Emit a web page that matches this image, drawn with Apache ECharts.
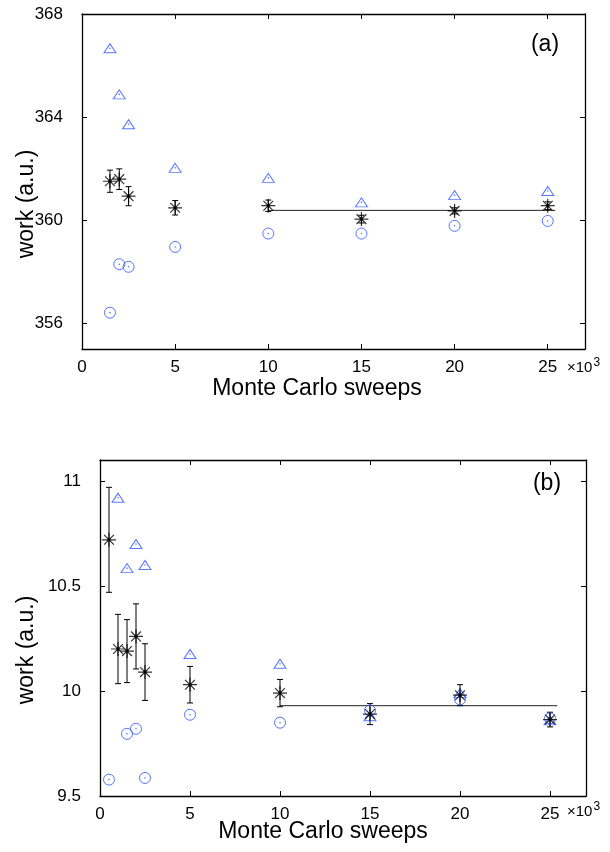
<!DOCTYPE html>
<html>
<head>
<meta charset="utf-8">
<script src="https://cdn.jsdelivr.net/npm/echarts@6/dist/echarts.min.js"></script>
<style>
  html, body { margin: 0; padding: 0; background: #fff; }
  #chart { width: 610px; height: 852px; }
</style>
</head>
<body>
<div id="chart"></div>
<script>
// sweeps in units of 10^3
const xTicks = [0, 5, 10, 15, 20, 25];

// panel (a)
const sweepsA = [1.5, 2, 2.5, 5, 10, 15, 20, 25];
const triA = [366.67, 364.88, 363.72, 362.03, 361.64, 360.69, 360.97, 361.13];
const circA = [356.41, 358.29, 358.19, 358.96, 359.48, 359.48, 359.78, 359.97];
const starA = [361.51, 361.59, 360.93, 360.48, 360.56, 360.04, 360.36, 360.56];
const errA = [0.43, 0.40, 0.37, 0.28, 0.22, 0.15, 0.12, 0.15];
const fitA = 360.38;
const yTicksA = [356, 360, 364, 368];

// panel (b)
const sweepsB = [0.5, 1, 1.5, 2, 2.5, 5, 10, 15, 20, 25];
const triB = [null, 10.92, 10.585, 10.70, 10.60, 10.176, 10.13, 9.88, 9.99, 9.86];
const circB = [9.578, null, 9.796, 9.82, 9.586, 9.887, 9.849, 9.907, 9.96, 9.87];
const starB = [10.72, 10.20, 10.19, 10.26, 10.09, 10.03, 9.99, 9.89, 9.98, 9.864];
const errB = [0.25, 0.165, 0.15, 0.155, 0.135, 0.087, 0.065, 0.05, 0.05, 0.035];
const fitB = 9.93;
const yTicksB = [9.5, 10, 10.5, 11];

const fitRange = [10, 25.4];

const FONT = 'Liberation Sans, Arial, sans-serif';
const BLUE = '#2f55ff';
const STAR = 'path://M0,-10L0,10M-10,0L10,0M-7,-7L7,7M-7,7L7,-7';

const pairs = (xs, ys) => xs.map((x, i) => [x, ys[i]]).filter(p => p[1] != null);

function axesFor(g, yMin, yMax, yTicks) {
  const line = { show: true, onZero: false, lineStyle: { color: '#000', width: 1.3 } };
  const tick = { show: true, inside: true, length: 5, lineStyle: { color: '#000', width: 1 } };
  const x = [
    { gridIndex: g, type: 'value', min: 0, max: 27, position: 'bottom',
      axisLine: line, splitLine: { show: false },
      axisTick: Object.assign({ customValues: xTicks }, tick),
      axisLabel: { customValues: xTicks, margin: 10, fontSize: 17, color: '#000', fontFamily: FONT } },
    { gridIndex: g, type: 'value', min: 0, max: 27, position: 'top',
      axisLine: line, splitLine: { show: false },
      axisTick: Object.assign({ customValues: xTicks }, tick),
      axisLabel: { show: false } }
  ];
  const y = [
    { gridIndex: g, type: 'value', min: yMin, max: yMax, position: 'left',
      axisLine: line, splitLine: { show: false },
      axisTick: Object.assign({ customValues: yTicks }, tick),
      axisLabel: { customValues: yTicks, margin: 19, fontSize: 17, color: '#000', fontFamily: FONT } },
    { gridIndex: g, type: 'value', min: yMin, max: yMax, position: 'right',
      axisLine: line, splitLine: { show: false },
      axisTick: Object.assign({ customValues: yTicks }, tick),
      axisLabel: { show: false } }
  ];
  return { x, y };
}

function seriesFor(g, sweeps, tri, circ, star, err, fit) {
  const xi = g * 2, yi = g * 2;
  const errData = sweeps.map((x, i) => [x, star[i] - err[i], star[i] + err[i]]);
  return [
    { type: 'custom', xAxisIndex: xi, yAxisIndex: yi, data: errData, z: 3,
      renderItem: (params, api) => {
        const lo = api.coord([api.value(0), api.value(1)]);
        const hi = api.coord([api.value(0), api.value(2)]);
        const st = { stroke: '#000', lineWidth: 1 };
        return { type: 'group', children: [
          { type: 'line', shape: { x1: lo[0], y1: lo[1], x2: hi[0], y2: hi[1] }, style: st },
          { type: 'line', shape: { x1: lo[0] - 3, y1: lo[1], x2: lo[0] + 3, y2: lo[1] }, style: st },
          { type: 'line', shape: { x1: hi[0] - 3, y1: hi[1], x2: hi[0] + 3, y2: hi[1] }, style: st }
        ] };
      } },
    { type: 'line', xAxisIndex: xi, yAxisIndex: yi, data: [[fitRange[0], fit], [fitRange[1], fit]],
      symbol: 'none', lineStyle: { color: '#222', width: 1 }, z: 2 },
    { type: 'scatter', xAxisIndex: xi, yAxisIndex: yi, data: pairs(sweeps, tri),
      symbol: 'triangle', symbolSize: [12, 9],
      itemStyle: { color: 'rgba(0,0,0,0)', borderColor: BLUE, borderWidth: 1 }, z: 4 },
    { type: 'scatter', xAxisIndex: xi, yAxisIndex: yi, data: pairs(sweeps, circ),
      symbol: 'circle', symbolSize: 11,
      itemStyle: { color: 'rgba(0,0,0,0)', borderColor: BLUE, borderWidth: 1 }, z: 4 },
    { type: 'scatter', xAxisIndex: xi, yAxisIndex: yi,
      data: pairs(sweeps, tri).concat(pairs(sweeps, circ)),
      symbol: 'circle', symbolSize: 1.6, itemStyle: { color: BLUE }, z: 4 },
    { type: 'scatter', xAxisIndex: xi, yAxisIndex: yi, data: pairs(sweeps, star),
      symbol: STAR, symbolSize: 14, symbolKeepAspect: true,
      itemStyle: { color: 'rgba(0,0,0,0)', borderColor: '#000', borderWidth: 1.2 }, z: 5 },
    { type: 'scatter', xAxisIndex: xi, yAxisIndex: yi, data: pairs(sweeps, star),
      symbol: 'circle', symbolSize: 3.5, itemStyle: { color: '#000' }, z: 6 }
  ];
}

const a = axesFor(0, 355, 368, yTicksA);
const b = axesFor(1, 9.5, 11.1, yTicksB);

const titleStyle = { fill: '#000', font: '23px ' + FONT };

const chart = echarts.init(document.getElementById('chart'));
chart.setOption({
  animation: false,
  backgroundColor: '#fff',
  grid: [
    { left: 82, top: 14, width: 503, height: 335 },
    { left: 100, top: 460, width: 486, height: 336 }
  ],
  xAxis: a.x.concat(b.x),
  yAxis: a.y.concat(b.y),
  series: seriesFor(0, sweepsA, triA, circA, starA, errA, fitA)
    .concat(seriesFor(1, sweepsB, triB, circB, starB, errB, fitB)),
  graphic: [
    { type: 'text', x: 27, y: 204, rotation: Math.PI / 2,
      style: Object.assign({ text: 'work (a.u.)', align: 'center', verticalAlign: 'middle' }, titleStyle) },
    { type: 'text', x: 27, y: 650, rotation: Math.PI / 2,
      style: Object.assign({ text: 'work (a.u.)', align: 'center', verticalAlign: 'middle' }, titleStyle) },
    { type: 'text', x: 317, y: 389,
      style: Object.assign({ text: 'Monte Carlo sweeps', align: 'center', verticalAlign: 'middle' }, titleStyle) },
    { type: 'text', x: 323, y: 832,
      style: Object.assign({ text: 'Monte Carlo sweeps', align: 'center', verticalAlign: 'middle' }, titleStyle) },
    { type: 'text', x: 545, y: 45,
      style: Object.assign({ text: '(a)', align: 'center', verticalAlign: 'middle' }, titleStyle) },
    { type: 'text', x: 547, y: 484,
      style: Object.assign({ text: '(b)', align: 'center', verticalAlign: 'middle' }, titleStyle) },
    { type: 'text', x: 567, y: 368,
      style: { text: '×10{s|3}', verticalAlign: 'middle', fill: '#000', font: '15px ' + FONT,
        rich: { s: { fontSize: 12, fontFamily: FONT, verticalAlign: 'top', padding: [0, 0, 10, 1] } } } },
    { type: 'text', x: 567, y: 812,
      style: { text: '×10{s|3}', verticalAlign: 'middle', fill: '#000', font: '15px ' + FONT,
        rich: { s: { fontSize: 12, fontFamily: FONT, verticalAlign: 'top', padding: [0, 0, 10, 1] } } } }
  ]
});
</script>
</body>
</html>
